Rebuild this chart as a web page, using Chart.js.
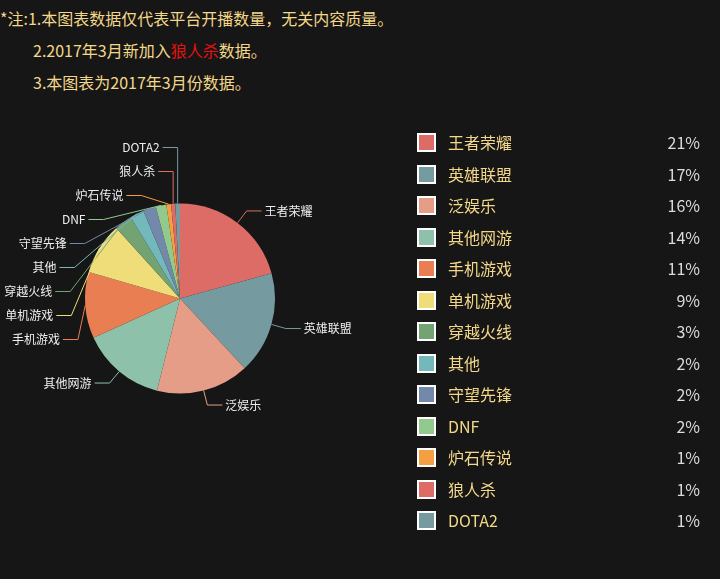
<!DOCTYPE html>
<html>
<head>
<meta charset="utf-8">
<script src="https://cdn.jsdelivr.net/npm/chart.js@4"></script>
<style>
  html, body { margin: 0; padding: 0; background: #161616; }
  body { width: 720px; height: 579px; position: relative; overflow: hidden;
         font-family: "Microsoft YaHei", "Noto Sans CJK SC", sans-serif; }
  .note { position: absolute; color: #f4d88a; font-size: 16px; line-height: 20px; white-space: nowrap; }
  .note .red { color: #e8100f; }
  #chart { position: absolute; left: 0; top: 0; }
  #legend { position: absolute; left: 417px; top: 133px; width: 283px; }
  .lg-row { position: relative; height: 31.5px; }
  .lg-box { position: absolute; left: 0; top: 0; width: 19px; height: 19px; box-sizing: border-box;
            border: 2px solid #fff; }
  .lg-name { position: absolute; left: 31px; top: -1px; color: #f4d88a; font-size: 16px; line-height: 20px; }
  .lg-val { position: absolute; right: 0; top: -1px; color: #dcdcdc; font-size: 16px; line-height: 20px; }
</style>
</head>
<body>
<div class="note" style="left:0;top:8px;">*注:1.本图表数据仅代表平台开播数量，无关内容质量。</div>
<div class="note" style="left:33px;top:40px;">2.2017年3月新加入<span class="red">狼人杀</span>数据。</div>
<div class="note" style="left:33px;top:72px;">3.本图表为2017年3月份数据。</div>
<canvas id="chart" width="720" height="579"></canvas>
<div id="legend"></div>
<script>
const categories = ["王者荣耀", "英雄联盟", "泛娱乐", "其他网游", "手机游戏", "单机游戏",
    "穿越火线", "其他", "守望先锋", "DNF", "炉石传说", "狼人杀", "DOTA2"];
const shares = [20.7, 17.4, 15.8, 14.3, 11.3, 8.8, 3.0, 2.4, 2.2, 1.8, 0.8, 0.7, 0.8];
const colors = ["#dd6b66", "#759aa0", "#e69d87", "#8dc1a9", "#ea7e53", "#eedd78",
    "#73a373", "#73b9bc", "#7289ab", "#91ca8c", "#f49f42", "#dd6b66", "#759aa0"];

const total = shares.reduce((a, b) => a + b, 0);
const pct = (v) => Math.round((v / total) * 100) + "%";

// ── Legend ──
document.getElementById("legend").innerHTML = categories
    .map((c, i) => `
    <div class="lg-row">
      <div class="lg-box" style="background:${colors[i]}"></div>
      <div class="lg-name">${c}</div>
      <div class="lg-val">${pct(shares[i])}</div>
    </div>`)
    .join("");

// ── Outside labels with leader lines ──
const LEN1 = 15, LEN2 = 15, GAP = 24;

function spread(items, minY) {
    items.sort((a, b) => a.y0 - b.y0);
    let groups = items.map((it) => ({ items: [it] }));
    const place = (g) => {
        const mean = g.items.reduce((s, it) => s + it.y0, 0) / g.items.length;
        g.top = mean - ((g.items.length - 1) * GAP) / 2;
        g.bottom = g.top + (g.items.length - 1) * GAP;
    };
    groups.forEach(place);
    let merged = true;
    while (merged) {
        merged = false;
        for (let i = 0; i < groups.length - 1; i++) {
            if (groups[i + 1].top < groups[i].bottom + GAP) {
                groups[i].items = groups[i].items.concat(groups[i + 1].items);
                groups.splice(i + 1, 1);
                place(groups[i]);
                merged = true;
                break;
            }
        }
    }
    let prev = null;
    groups.forEach((g) => {
        let top = g.top;
        if (prev === null) top = Math.max(top, minY);
        else top = Math.max(top, prev + GAP);
        g.items.forEach((it, k) => (it.y = top + k * GAP));
        prev = top + (g.items.length - 1) * GAP;
    });
}

const pieLabels = {
    id: "pieLabels",
    afterDatasetsDraw(chart) {
        const ctx = chart.ctx;
        const arcs = chart.getDatasetMeta(0).data;
        const left = [], right = [];
        arcs.forEach((arc, i) => {
            const a = (arc.startAngle + arc.endAngle) / 2;
            const cx = arc.x, cy = arc.y, r = arc.outerRadius;
            const dx = Math.cos(a), dy = Math.sin(a);
            const item = {
                i, cx, cy, r,
                ex: cx + r * dx, ey: cy + r * dy,
                y0: cy + (r + LEN1) * dy,
            };
            (dx >= 0 ? right : left).push(item);
        });
        const a0 = arcs[0];
        const minY = a0.y - a0.outerRadius - 56;
        spread(left, minY);
        spread(right, minY);

        ctx.save();
        ctx.font = '12px "Microsoft YaHei", "Noto Sans CJK SC", sans-serif';
        ctx.textBaseline = "middle";
        ctx.lineWidth = 1;
        const draw = (it, dir) => {
            const R = it.r + LEN1;
            const d = it.y - it.cy;
            let bx = it.cx + dir * Math.sqrt(Math.max(0, R * R - d * d));
            if (dir < 0) bx = Math.min(bx, it.ex);
            else bx = Math.max(bx, it.ex);
            const tx = bx + dir * LEN2;
            ctx.strokeStyle = colors[it.i];
            ctx.beginPath();
            ctx.moveTo(it.ex, it.ey);
            ctx.lineTo(bx, it.y);
            ctx.lineTo(tx, it.y);
            ctx.stroke();
            ctx.fillStyle = "#eeeeee";
            ctx.textAlign = dir < 0 ? "right" : "left";
            ctx.fillText(categories[it.i], tx + dir * 3, it.y);
        };
        left.forEach((it) => draw(it, -1));
        right.forEach((it) => draw(it, 1));
        ctx.restore();
    },
};

new Chart(document.getElementById("chart").getContext("2d"), {
    type: "pie",
    data: {
        labels: categories,
        datasets: [{
            data: shares,
            backgroundColor: colors,
            borderWidth: 0,
        }],
    },
    options: {
        responsive: false,
        animation: false,
        layout: { padding: { left: 85, right: 445, top: 203, bottom: 185 } },
        plugins: {
            legend: { display: false },
            tooltip: { enabled: false },
        },
    },
    plugins: [pieLabels],
});
</script>
</body>
</html>
